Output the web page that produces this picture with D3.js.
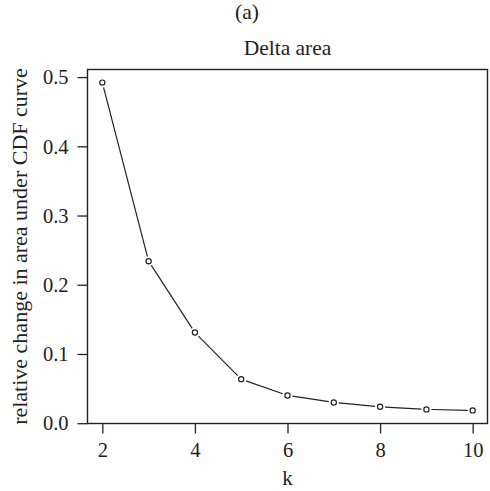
<!DOCTYPE html>
<html>
<head>
<meta charset="utf-8">
<script src="https://cdn.jsdelivr.net/npm/d3@7"></script>
<style>
  html, body { margin: 0; padding: 0; background: #fff; }
</style>
</head>
<body>
<svg id="chart" width="490" height="491"></svg>
<script>
// Relative change in area under the CDF curve for each number of clusters k
const kValues = [2, 3, 4, 5, 6, 7, 8, 9, 10];
const deltaArea = [0.492, 0.234, 0.131, 0.0636, 0.0401, 0.0300, 0.0237, 0.0199, 0.0185];
const xTicks = [2, 4, 6, 8, 10];
const yTicks = [0.0, 0.1, 0.2, 0.3, 0.4, 0.5];

const panelLabel = "(a)";
const title = "Delta area";
const xLabel = "k";
const yLabel = "relative change in area under CDF curve";

const FONT = '"Liberation Serif"';
const ink = "#222";
const svg = d3.select("#chart");
const plotL = 87.5, plotR = 487.5, plotT = 69.5, plotB = 423.5;

// Axis ranges padded by 4% on each side
function padded(ext) {
  const d = (ext[1] - ext[0]) * 0.04;
  return [ext[0] - d, ext[1] + d];
}
const x = d3.scaleLinear().domain(padded(d3.extent(kValues))).range([plotL, plotR]);
const y = d3.scaleLinear().domain(padded(d3.extent(deltaArea))).range([plotB, plotT]);

// Plot frame
svg.append("rect")
  .attr("x", plotL).attr("y", plotT)
  .attr("width", plotR - plotL).attr("height", plotB - plotT)
  .attr("fill", "none").attr("stroke", ink).attr("stroke-width", 1.4);

// Axes
const xAxis = d3.axisBottom(x).tickValues(xTicks).tickSize(10).tickPadding(9)
  .tickFormat(d3.format("d"));
const gx = svg.append("g").attr("transform", `translate(0,${plotB})`).call(xAxis);
gx.select(".domain").remove();

const yAxis = d3.axisLeft(y).tickValues(yTicks).tickSize(10).tickPadding(9)
  .tickFormat(d3.format(".1f"));
const gy = svg.append("g").attr("transform", `translate(${plotL},0)`).call(yAxis);
gy.select(".domain").remove();

[gx, gy].forEach(g => {
  g.attr("font-family", null).attr("font-size", null);
  g.selectAll(".tick line").attr("stroke", ink).attr("stroke-width", 1.3);
  g.selectAll(".tick text")
    .attr("font-family", FONT).attr("font-size", 20.5).attr("fill", ink);
});
gy.selectAll(".tick text").attr("dy", "0.33em");

// Titles and axis labels
function label(xp, yp, txt, size) {
  return svg.append("text").attr("x", xp).attr("y", yp).attr("text-anchor", "middle")
    .attr("font-family", FONT).attr("font-size", size).attr("fill", ink).text(txt);
}
label(247, 18.5, panelLabel, 21.5);
label((plotL + plotR) / 2, 55, title, 21.5);
label((plotL + plotR) / 2, 485, xLabel, 21);
svg.append("text")
  .attr("transform", `translate(26.5,${(plotT + plotB) / 2}) rotate(-90)`)
  .attr("text-anchor", "middle")
  .attr("font-family", FONT).attr("font-size", 22).attr("fill", ink)
  .text(yLabel);

// Line segments with gaps around the point markers
const pts = kValues.map((k, i) => [x(k), y(deltaArea[i])]);
const gap = 5;
const segs = d3.pairs(pts).map(([a, b]) => {
  const dx = b[0] - a[0], dy = b[1] - a[1];
  const len = Math.hypot(dx, dy);
  const ux = dx / len, uy = dy / len;
  return [a[0] + ux * gap, a[1] + uy * gap, b[0] - ux * gap, b[1] - uy * gap];
});
svg.append("g").selectAll("line").data(segs).join("line")
  .attr("x1", d => d[0]).attr("y1", d => d[1])
  .attr("x2", d => d[2]).attr("y2", d => d[3])
  .attr("stroke", ink).attr("stroke-width", 1.2);

// Point markers
svg.append("g").selectAll("circle").data(kValues).join("circle")
  .attr("cx", d => x(d))
  .attr("cy", (d, i) => y(deltaArea[i]))
  .attr("r", 2.6)
  .attr("fill", "#fff").attr("stroke", ink).attr("stroke-width", 1.2);
</script>
</body>
</html>
